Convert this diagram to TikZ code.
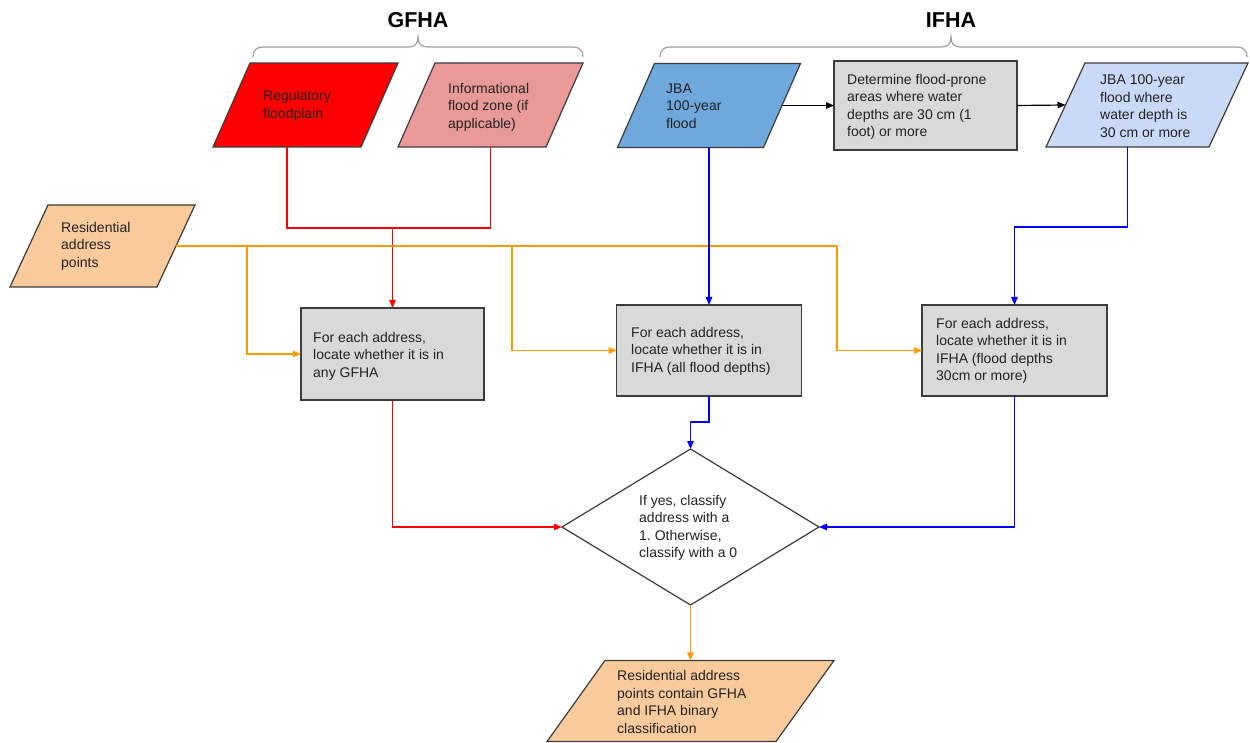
\documentclass[tikz,border=0pt]{standalone}
\usepackage{fontspec}
\setmainfont{Liberation Sans}
\usetikzlibrary{shapes.geometric,arrows.meta}
\definecolor{cBorder}{HTML}{3C3C3C}
\definecolor{cRedFill}{HTML}{FF0000}
\definecolor{cPink}{HTML}{EA9999}
\definecolor{cBlueFill}{HTML}{6FA8DC}
\definecolor{cLightBlue}{HTML}{C9DAF8}
\definecolor{cGray}{HTML}{D9D9D9}
\definecolor{cPeach}{HTML}{F9CB9C}
\definecolor{cOrange}{HTML}{FF9900}
\definecolor{cRedLine}{HTML}{FF0000}
\definecolor{cBlueLine}{HTML}{0000FF}
\definecolor{cBrace}{HTML}{9E9E9E}
\definecolor{cText}{HTML}{222222}
\frenchspacing
\begin{document}
\begin{tikzpicture}[x=1pt,y=-1pt,
  para/.style={trapezium, draw=cBorder, line width=1.2pt, outer sep=0pt},
  procbox/.style={rectangle, draw=cBorder, fill=cGray, line width=1.2pt, inner sep=0pt, outer sep=0pt},
  txt/.style={anchor=west, align=left, inner sep=0pt, text=cText,
    font=\fontsize{14}{17.5}\selectfont},
  title/.style={font=\fontsize{21.5}{24}\selectfont\bfseries, text=black, inner sep=0pt},
  tip/.style={-{Triangle[length=8pt,width=6.5pt]}},
  conn/.style={line width=1.2pt},
  redc/.style={conn, draw=cRedLine},
  bluec/.style={conn, draw=cBlueLine},
  orc/.style={conn, draw=cOrange},
  blkc/.style={conn, draw=black},
  bracepath/.style={draw=cBrace, line width=1.2pt}
]
\useasboundingbox (0,0) rectangle (1250,743);

% titles
\node[title] (tg) at (418,20) {GFHA};
\node[title] (ti) at (951,20) {IFHA};

% braces
\draw[bracepath] (253,57) .. controls (253,51) and (256,47) .. (263,47) -- (408,47)
  .. controls (415,47) and (418,44) .. (418,37)
  .. controls (418,44) and (421,47) .. (428,47) -- (573,47)
  .. controls (580,47) and (583,51) .. (583,57);
\draw[bracepath] (660,57) .. controls (660,51) and (663,47) .. (670,47) -- (941,47)
  .. controls (948,47) and (951,44) .. (951,37)
  .. controls (951,44) and (954,47) .. (961,47) -- (1237,47)
  .. controls (1244,47) and (1247,51) .. (1247,57);

% input parallelograms
\node[para, fill=cRedFill, trapezium left angle=66.23, trapezium right angle=113.77,
  inner xsep=55.5pt, inner ysep=42pt] (reg) at (305.5,105) {};
\node[para, fill=cPink, trapezium left angle=66.23, trapezium right angle=113.77,
  inner xsep=55.5pt, inner ysep=42pt] (inf) at (490.5,105) {};
\node[para, fill=cBlueFill, trapezium left angle=66.23, trapezium right angle=113.77,
  inner xsep=54.5pt, inner ysep=42pt] (jba) at (709,105.5) {};
\node[procbox, minimum width=183pt, minimum height=89pt] (det) at (925.5,105.5) {};
\node[para, fill=cLightBlue, trapezium left angle=65.1, trapezium right angle=114.9,
  inner xsep=62pt, inner ysep=42pt] (lb) at (1147,105) {};
\node[para, fill=cPeach, trapezium left angle=65.14, trapezium right angle=114.86,
  inner xsep=54.5pt, inner ysep=41pt] (res) at (102.5,246) {};

% process boxes
\node[procbox, minimum width=183pt, minimum height=92pt] (b1) at (392.5,354) {};
\node[procbox, minimum width=185pt, minimum height=91pt] (b2) at (709,350.5) {};
\node[procbox, minimum width=185pt, minimum height=91pt] (b3) at (1014.5,350.5) {};

% decision
\node[diamond, draw=cBorder, fill=white, line width=1.2pt, inner sep=0pt, outer sep=0pt,
  minimum width=257pt, minimum height=156pt] (dia) at (690.5,527) {};

% output
\node[para, fill=cPeach, trapezium left angle=54.4, trapezium right angle=125.6,
  inner xsep=85.5pt, inner ysep=40.5pt] (out) at (690.5,701) {};

% texts
\node[txt] (regt) at (263,106) {Regulatory\\floodplain};
\node[txt] (inft) at (448,107) {Informational\\flood zone (if\\applicable)};
\node[txt] (jbat) at (666,106) {JBA\\100-year\\flood};
\node[txt] (dett) at (847,107) {Determine flood-prone\\areas where water\\depths are 30 cm (1\\foot) or more};
\node[txt] (lbt) at (1100,106) {JBA 100-year\\flood where\\water depth is\\30 cm or more};
\node[txt] (rest) at (61,246) {Residential\\address\\points};
\node[txt] (b1t) at (313,356) {For each address,\\locate whether it is in\\any GFHA};
\node[txt] (b2t) at (631,351) {For each address,\\locate whether it is in\\IFHA (all flood depths)};
\node[txt] (b3t) at (936,351) {For each address,\\locate whether it is in\\IFHA (flood depths\\30cm or more)};
\node[txt] (diat) at (639,528) {If yes, classify\\address with a\\1. Otherwise,\\classify with a 0};
\node[txt] (outt) at (617,702) {Residential address\\points contain GFHA\\and IFHA binary\\classification};

% junction coordinates
\coordinate (gj) at (392.5,228);
\coordinate (oj1) at (247,246);
\coordinate (oj2) at (512,246);
\coordinate (oj3) at (837,246);

% black connectors
\draw[blkc, tip] (jba.right side) -- (det.west);
\draw[blkc, tip] (det.east) -- (lb.left side);

% red connectors
\draw[redc] (reg.bottom side) |- (gj) -| (inf.south);
\draw[redc, tip] (gj) -- (b1.north);
\draw[redc, tip] (b1.south) |- (dia.west);

% orange connectors
\draw[orc] (res.right side) -- (oj3);
\draw[orc, tip] (oj1) |- (b1.west);
\draw[orc, tip] (oj2) |- (b2.west);
\draw[orc, tip] (oj3) |- (b3.west);
\draw[orc, tip] (dia.south) -- (out.north);

% blue connectors
\draw[bluec, tip] (jba.south) -- (b2.north);
\draw[bluec, tip] (lb.bottom side) -- ++(0,80) -| (b3.north);
\draw[bluec, tip] (b2.south) -- ++(0,26) -| (dia.north);
\draw[bluec, tip] (b3.south) |- (dia.east);
\end{tikzpicture}
\end{document}
